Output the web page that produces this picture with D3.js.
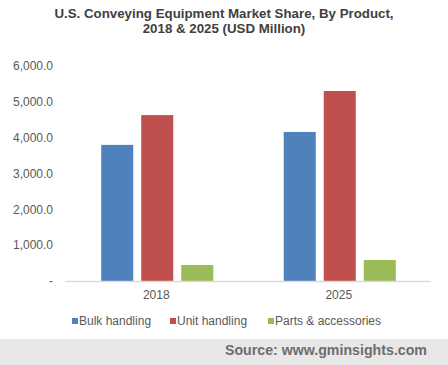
<!DOCTYPE html>
<html><head><meta charset="utf-8">
<script src="https://cdn.jsdelivr.net/npm/d3@7"></script>
<style>body{margin:0;background:#fff}svg{display:block;font-family:Arial,"Liberation Sans",sans-serif}</style>
</head><body><svg id="c" width="448" height="365"></svg>
<script>
const categories = ["2018", "2025"];
const seriesNames = ["Bulk handling", "Unit handling", "Parts & accessories"];
const seriesColors = ["#4f81bd", "#c0504d", "#9bbb59"];
const bulkHandling = [3790, 4150];
const unitHandling = [4620, 5290];
const partsAccessories = [445, 585];
const yTicks = [0, 1000, 2000, 3000, 4000, 5000, 6000];
const titleLines = ["U.S. Conveying Equipment Market Share, By Product,", "2018 & 2025 (USD Million)"];
const sourceText = "Source: www.gminsights.com";

const series = [bulkHandling, unitHandling, partsAccessories];
const svg = d3.select("#c");
const W = 448, H = 365;
const m = {l: 65, r: 18, t: 65.5, b: 84};
const x0 = d3.scaleBand().domain(categories).range([m.l, W - m.r]).paddingInner(0).paddingOuter(0);
const x1 = d3.scaleBand().domain(seriesNames).range([0, x0.bandwidth()]).paddingInner(0.2).paddingOuter(0.88);
const y = d3.scaleLinear().domain([0, 6000]).range([H - m.b, m.t]);

svg.append("g").selectAll("text").data(titleLines).join("text")
  .attr("x", W / 2).attr("y", (d, i) => 17.5 + i * 15.5)
  .attr("text-anchor", "middle").attr("font-weight", "bold").attr("font-size", 13.3)
  .attr("fill", "#404040").text(d => d);

const yAxis = d3.axisLeft(y).tickValues(yTicks).tickSize(0).tickPadding(12)
  .tickFormat(d => d === 0 ? "-" : d3.format(",.1f")(d));
const ga = svg.append("g").attr("transform", `translate(${m.l},0)`).call(yAxis);
ga.select(".domain").remove();
ga.selectAll("text").attr("font-size", 12).attr("fill", "#595959").attr("font-family", "Arial,'Liberation Sans',sans-serif");

const groups = svg.append("g").selectAll("g").data(categories).join("g")
  .attr("transform", d => `translate(${x0(d) + 1},0)`);
groups.selectAll("rect").data((c, ci) => seriesNames.map((s, si) => ({s, si, v: series[si][ci]})))
  .join("rect")
  .attr("x", d => x1(d.s)).attr("width", x1.bandwidth())
  .attr("y", d => y(d.v)).attr("height", d => y(0) - y(d.v))
  .attr("fill", d => seriesColors[d.si]);

const xAxis = d3.axisBottom(x0).tickSize(0).tickPadding(9);
const gx = svg.append("g").attr("transform", `translate(0,${y(0)})`).call(xAxis);
gx.select(".domain").attr("stroke", "#d9d9d9").attr("stroke-width", 1.5);
gx.selectAll("text").attr("font-size", 12).attr("fill", "#595959").attr("font-family", "Arial,'Liberation Sans',sans-serif");

const legendX = [72, 170, 268];
const lg = svg.append("g").selectAll("g").data(seriesNames).join("g")
  .attr("transform", (d, i) => `translate(${legendX[i]},321)`);
lg.append("rect").attr("x", 0).attr("y", -3).attr("width", 6).attr("height", 6).attr("fill", (d, i) => seriesColors[i]);
lg.append("text").attr("x", 7).attr("y", 4).attr("font-size", 12).attr("fill", "#595959").text(d => d);

svg.append("rect").attr("x", 0).attr("y", 339).attr("width", W).attr("height", 26).attr("fill", "#e8e8e8");
svg.append("text").attr("x", 427).attr("y", 355).attr("text-anchor", "end")
  .attr("font-weight", "bold").attr("font-size", 14.2).attr("fill", "#6d6d6d").text(sourceText);
</script></body></html>
